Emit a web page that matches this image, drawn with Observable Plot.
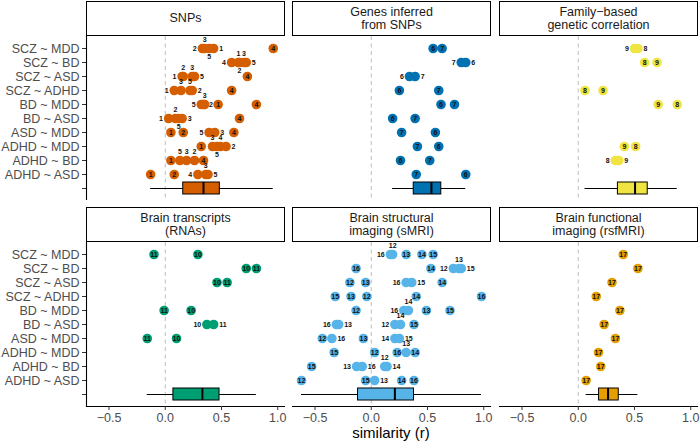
<!DOCTYPE html>
<html><head><meta charset="utf-8">
<script src="https://cdn.jsdelivr.net/npm/d3@7"></script>
<script src="https://cdn.jsdelivr.net/npm/@observablehq/plot@0.6"></script>
<style>
body{margin:0;background:#fff;font-family:"Liberation Sans",Arial,sans-serif;}
#chart{position:relative;width:700px;height:444px;overflow:hidden;background:#fff;}
.strip{position:absolute;box-sizing:border-box;border:1px solid #000;background:#fff;display:flex;align-items:center;justify-content:center;text-align:center;font-size:12.5px;line-height:13px;color:#1a1a1a;white-space:pre-line;}
.panel{position:absolute;}
.panel svg{overflow:visible;}
.panel svg [aria-label="y-axis tick"] path,.panel svg [aria-label="x-axis tick"] path{stroke:#333;}
.xtitle{position:absolute;font-size:15px;line-height:15px;color:#000;text-align:center;width:300px;}
</style>
</head><body>
<div id="chart"></div>
<script>
// ---------- data ----------
const pairs = ["SCZ ~ MDD","SCZ ~ BD","SCZ ~ ASD","SCZ ~ ADHD","BD ~ MDD","BD ~ ASD","ASD ~ MDD","ADHD ~ MDD","ADHD ~ BD","ADHD ~ ASD"];
const BOX = " ";
// SNPs (studies 1-5)
const s1  = [0.43, 0.65, 0.15, 0.08, 0.47, 0.03, 0.05, 0.32, 0.05, -0.13];
const s2  = [0.33, 0.66, 0.16, 0.24, 0.34, 0.09, 0.16, 0.54, 0.26, 0.08];
const s3  = [0.35, 0.70, 0.24, 0.14, 0.35, 0.15, 0.44, 0.42, 0.19, 0.36];
const s4  = [0.96, 0.59, 0.73, 0.59, 0.81, 0.66, 0.61, 0.49, 0.34, 0.29];
const s5  = [0.39, 0.72, 0.26, 0.22, 0.32, 0.12, 0.39, 0.46, 0.13, 0.38];
// Genes inferred from SNPs (6-7)
const s6  = [0.55, 0.84, 0.34, 0.25, 0.62, 0.19, 0.57, 0.60, 0.26, 0.84];
const s7  = [0.63, 0.80, 0.39, 0.60, 0.74, 0.39, 0.27, 0.41, 0.52, 0.40];
// Family-based genetic correlation (8-9)
const s8  = [0.53, 0.59, null, 0.06, 0.88, null, null, 0.51, 0.33, null];
const s9  = [0.50, 0.70, null, 0.22, 0.71, null, null, 0.41, 0.36, null];
// Brain transcripts (10-11)
const s10 = [0.29, 0.72, 0.46, null, 0.23, 0.37, 0.10, null, null, null];
const s11 = [-0.10, 0.81, 0.55, null, -0.01, 0.43, -0.16, null, null, null];
// Brain structural imaging (12-16)
const s12 = [0.19, 0.73, -0.19, -0.04, -0.135, 0.21, -0.435, 0.03, 0.12, -0.62];
const s13 = [0.31, 0.78, -0.05, -0.18, 0.49, -0.29, -0.07, 0.31, -0.13, 0.03];
const s14 = [0.45, 0.53, 0.63, 0.40, 0.33, 0.26, 0.21, 0.39, 0.14, 0.27];
const s15 = [0.55, 0.80, 0.36, -0.32, 0.70, 0.38, 0.25, -0.33, -0.53, -0.05];
const s16 = [0.17, -0.135, 0.31, 0.98, 0.29, -0.31, -0.35, 0.23, -0.08, 0.38];
// Brain functional imaging (17)
const s17 = [0.40, 0.53, 0.30, 0.16, 0.37, 0.23, 0.33, 0.18, 0.20, 0.07];

const studies = {1:s1,2:s2,3:s3,4:s4,5:s5,6:s6,7:s7,8:s8,9:s9,10:s10,11:s11,12:s12,13:s13,14:s14,15:s15,16:s16,17:s17};
const panelTitles = ["SNPs","Genes inferred\nfrom SNPs","Family\u2212based\ngenetic correlation","Brain transcripts\n(RNAs)","Brain structural\nimaging (sMRI)","Brain functional\nimaging (rsfMRI)"];
const panelStudyIds = [[1,2,3,4,5],[6,7],[8,9],[10,11],[12,13,14,15,16],[17]];
const panelColors = ["#D55E00","#0072B2","#F0E442","#009E73","#56B4E9","#E69F00"];
const xTicks = [-0.5, 0, 0.5, 1];
const xTitle = "similarity (r)";

// ---------- layout ----------
const colLeft = [86, 292, 499];
const panelW = 198;
const stripTop = [1, 207];
const stripH = 35;
const panelTop = [35.5, 242];
const panelH = 164;
const R = 4.8;
const PI_ = 0.17, PO_ = 0.1 + PI_ / 2;

const chart = document.getElementById("chart");

const allVals = Object.values(studies).flat().filter(v => v != null);
const [vmin, vmax] = d3.extent(allVals);
const pad = (vmax - vmin) * 0.05;
const xDomain = [vmin - pad, vmax + pad];
const k = panelW / (xDomain[1] - xDomain[0]);
const stepP = panelH / (pairs.length + 0.2);

// candidate label positions: key, dx, dy, anchor
const cands = [
  ["c", 0, 0, "middle"],
  ["l", -(R + 0.8), 0, "end"],
  ["r", R + 0.8, 0, "start"],
  ["a", 0, -8.5, "middle"],
  ["b", 0, 8.5, "middle"],
  ["ar", 4.5, -8, "start"],
  ["bl", -4.5, 8, "end"],
  ["al", -4.5, -8, "end"],
  ["br", 4.5, 8, "start"]
];
function labelBox(px, py, w, c) {
  const [, dx, dy, an] = c;
  const x0 = an === "middle" ? px + dx - w / 2 : an === "end" ? px + dx - w : px + dx;
  return [x0, py + dy - 2.7, x0 + w, py + dy + 2.7];
}
const ov = (a, b) => a[0] < b[2] && b[0] < a[2] && a[1] < b[3] && b[1] < a[3];
const grow = (b, m) => [b[0] - m, b[1] - m, b[2] + m, b[3] + m];

function placeLabels(data) {
  data.forEach(d => { d.px = (d.x - xDomain[0]) * k; d.py = (pairs.indexOf(d.pair) + 0.6) * stepP; });
  const dotBoxes = data.map(d => [d.px - R * 0.8, d.py - R * 0.8, d.px + R * 0.8, d.py + R * 0.8]);
  const placed = [];
  const order = data.slice().sort((a, b) => a.py - b.py || a.px - b.px);
  for (const d of order) {
    const w = d.id.length * 4 + 0.6;
    const crowded = data.some(o => o !== d && o.py === d.py && Math.abs(o.px - d.px) < 8.5);
    let best = null, bestScore = Infinity;
    for (const c of cands) {
      if (c[0] === "c" && crowded) continue;
      const b = labelBox(d.px, d.py, w, c);
      const bg = grow(b, 1);
      let score = 0;
      for (const p of placed) if (ov(bg, p)) score += 10;
      if (c[0] !== "c") dotBoxes.forEach(db => { if (ov(b, db)) score += 3; });
      if (b[0] < 0 || b[2] > panelW) score += 5;
      if (score < bestScore) { bestScore = score; best = c; }
      if (score === 0) break;
    }
    d.pos = best[0];
    placed.push(labelBox(d.px, d.py, w, best));
  }
}

panelTitles.forEach((title, i) => {
  const r = i < 3 ? 0 : 1, c = i % 3;
  const color = panelColors[i];
  // strip
  const s = document.createElement("div");
  s.className = "strip";
  s.style.left = colLeft[c] + "px";
  s.style.top = stripTop[r] + "px";
  s.style.width = (panelW + 1) + "px";
  s.style.height = stripH + "px";
  s.textContent = title;
  chart.appendChild(s);

  // data
  const data = [];
  for (const id of panelStudyIds[i]) {
    studies[id].forEach((v, j) => { if (v != null) data.push({pair: pairs[j], x: v, id: String(id)}); });
  }
  placeLabels(data);
  // box stats
  const vals = data.map(d => d.x).sort(d3.ascending);
  const q1 = d3.quantile(vals, 0.25), med = d3.quantile(vals, 0.5), q3 = d3.quantile(vals, 0.75);
  const iqr = q3 - q1;
  const lo = d3.min(vals.filter(v => v >= q1 - 1.5 * iqr));
  const hi = d3.max(vals.filter(v => v <= q3 + 1.5 * iqr));
  const box = [{q1, med, q3, lo, hi, y: BOX}];

  const ml = c === 0 ? 86 : 0;
  const mb = r === 1 ? 30 : 0;
  const txt = {x: "x", y: "pair", text: "id", fontSize: 7, fontWeight: "bold", fill: "#111"};
  const marks = [
    Plot.ruleX([0], {stroke: "#bdbdbd", strokeDasharray: "4,3.5", strokeWidth: 1}),
    Plot.ruleY(box, {y: "y", x1: "lo", x2: "hi", stroke: "#000", strokeWidth: 1}),
    Plot.barX(box, {y: "y", x1: "q1", x2: "q3", fill: color, stroke: "#000", strokeWidth: 1}),
    Plot.tickX(box, {y: "y", x: "med", stroke: "#000", strokeWidth: 2}),
    Plot.dot(data, {x: "x", y: "pair", r: R, fill: color}),
    ...cands.map(([key, dx, dy, an]) => Plot.text(data, {...txt, filter: d => d.pos === key, dx, dy, textAnchor: an}))
  ];
  if (c === 0) {
    marks.push(Plot.ruleX([xDomain[0]], {stroke: "#000", strokeWidth: 1.1}));
    marks.push(Plot.axisY({tickSize: 4, tickPadding: 3, fontSize: 12.5, fill: "#4d4d4d", tickFormat: d => d === BOX ? "" : d, label: null}));
  }
  if (r === 1) {
    marks.push(Plot.frame({anchor: "bottom", stroke: "#000", strokeWidth: 1.1}));
    marks.push(Plot.axisX(xTicks, {tickSize: 4, tickPadding: 3, fontSize: 12.5, fill: "#4d4d4d", tickFormat: d3.format(".1f"), label: null}));
  }
  const plot = Plot.plot({
    width: panelW + ml, height: panelH + mb,
    marginLeft: ml, marginRight: 0, marginTop: 0, marginBottom: mb,
    style: {fontFamily: "Liberation Sans, Arial, sans-serif", fontSize: "12.5px", background: "transparent"},
    x: {domain: xDomain, ...(r === 1 ? {} : {axis: null})},
    y: {type: "band", domain: [...pairs, BOX], paddingInner: PI_, paddingOuter: PO_, ...(c === 0 ? {} : {axis: null})},
    marks
  });
  const wrap = document.createElement("div");
  wrap.className = "panel";
  wrap.style.left = (colLeft[c] - ml) + "px";
  wrap.style.top = panelTop[r] + "px";
  wrap.appendChild(plot);
  chart.appendChild(wrap);
});

const t = document.createElement("div");
t.className = "xtitle";
t.textContent = xTitle;
t.style.left = (colLeft[1] + panelW / 2 - 150) + "px";
t.style.top = "425px";
chart.appendChild(t);
</script>
</body></html>
